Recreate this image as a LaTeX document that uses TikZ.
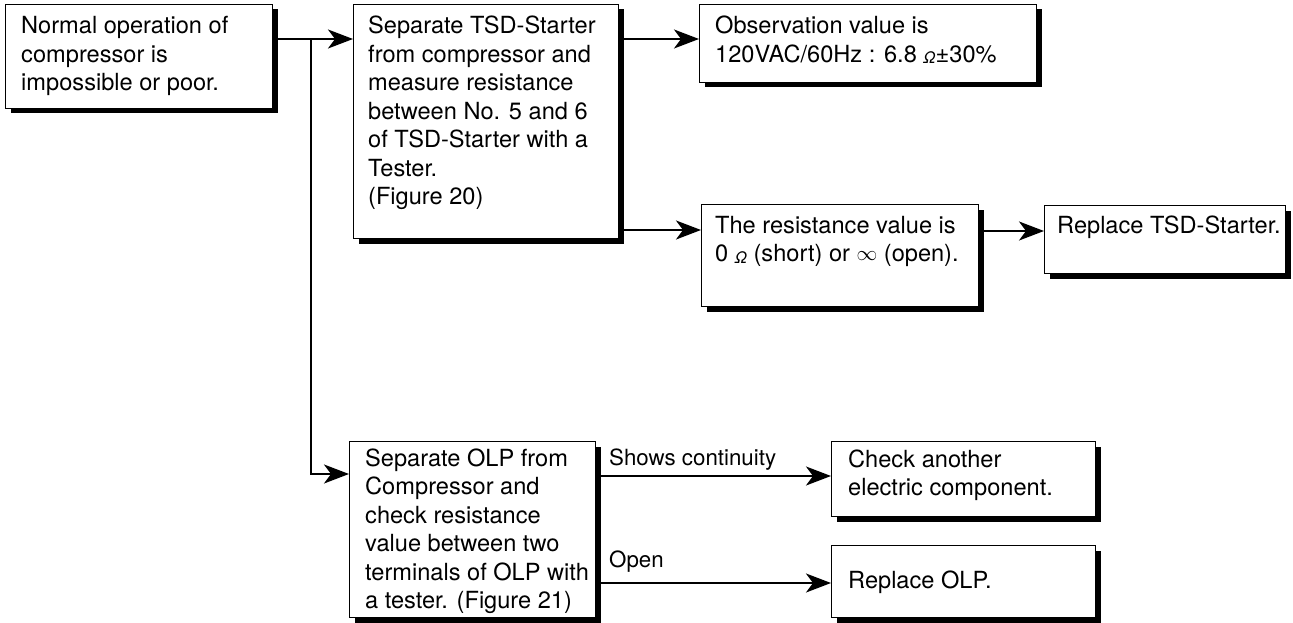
\documentclass[tikz,border=0pt]{standalone}
\usepackage{fontspec}
\setmainfont{TeX Gyre Heros}
\usetikzlibrary{arrows.meta,shadows}
\newcommand{\tb}[1]{\parbox[t]{400pt}{\raggedright #1}}
\newcommand{\ohm}{\raisebox{-1.5pt}{\fontsize{16}{16}\selectfont\itshape Ω}}
\newcommand{\infsym}{\raisebox{1pt}{\fontsize{20}{20}\selectfont$\infty$}}
\begin{document}
\begin{tikzpicture}[x=1pt,y=-1pt,
  font=\fontsize{23.6}{28.5}\selectfont,
  boxnode/.style={draw=black,line width=1pt,fill=white,rectangle,inner sep=0pt,
    anchor=north west,
    drop shadow={shadow xshift=5pt,shadow yshift=-5pt,fill=black,opacity=1}},
  txt/.style={anchor=base west,inner sep=0pt},
  lbl/.style={anchor=base west,inner sep=0pt,font=\fontsize{22.3}{26}\selectfont},
  arr/.style={line width=1.9pt,-{Stealth[length=25pt,width=19pt,inset=7pt]}}]
\useasboundingbox (0,0) rectangle (1293,623);
% boxes
\node[boxnode,minimum width=267pt,minimum height=104pt] (b1) at (5,4) {};
\node[boxnode,minimum width=265pt,minimum height=234pt] (b2) at (353,4) {};
\node[boxnode,minimum width=337pt,minimum height=78pt] (b3) at (699,4) {};
\node[boxnode,minimum width=277pt,minimum height=102pt] (b4) at (701,204) {};
\node[boxnode,minimum width=241pt,minimum height=68pt] (b5) at (1044,205) {};
\node[boxnode,minimum width=246pt,minimum height=176pt] (b6) at (349,441) {};
\node[boxnode,minimum width=264pt,minimum height=75pt] (b7) at (831,441) {};
\node[boxnode,minimum width=264pt,minimum height=72pt] (b8) at (831,545) {};
% texts
\node[txt] (t1) at (21,34) {\tb{Normal operation of\\compressor is\\impossible or poor.}};
\node[txt] (t2) at (368,34) {\tb{Separate TSD-Starter\\from compressor and\\measure resistance\\between No. 5 and 6\\of TSD-Starter with a\\Tester.\\(Figure 20)}};
\node[txt] (t3) at (715,34) {\tb{Observation value is\\120VAC/60Hz : 6.8 \ohm±30\%}};
\node[txt] (t4) at (715,233) {\tb{The resistance value is\\0 \ohm\ (short) or \infsym\ (open).}};
\node[txt] (t5) at (1057,233) {\tb{Replace TSD-Starter.}};
\node[txt] (t6) at (365,466) {\tb{Separate OLP from\\Compressor and\\check resistance\\value between two\\terminals of OLP with\\a tester. (Figure 21)}};
\node[txt] (t7) at (848,467) {\tb{Check another\\electric component.}};
\node[txt] (t8) at (848,588) {\tb{Replace OLP.}};
\node[lbl] (l1) at (609,465) {Shows continuity};
\node[lbl] (l2) at (609,567) {Open};
% connectors
\coordinate (j) at (311,39);
\draw[arr] (b1.east |- j) -- (b2.west |- j);
\draw[arr] (j) -- (311,474) -- (b6.west |- 0,474);
\draw[arr] (b2.east |- j) -- (b3.west |- j);
\draw[arr] (b2.east |- 0,230) -- (b4.west |- 0,230);
\draw[arr] (b4.east |- 0,231) -- (b5.west |- 0,231);
\draw[arr] (b6.east |- 0,476) -- (b7.west |- 0,476);
\draw[arr] (b6.east |- 0,583) -- (b8.west |- 0,583);
\end{tikzpicture}
\end{document}
